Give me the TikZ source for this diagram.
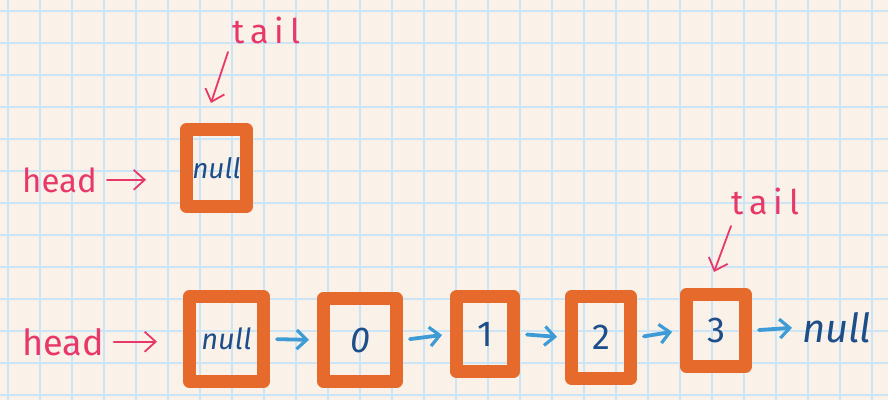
\documentclass[tikz,border=0pt]{standalone}
\usepackage{fontspec}
\setmainfont{Fira Sans}
\usetikzlibrary{arrows.meta}
\definecolor{bg}{HTML}{FAF2E9}
\definecolor{gridc}{HTML}{CBE4F6}
\definecolor{boxor}{HTML}{E66A2C}
\definecolor{ink}{HTML}{1D4E89}
\definecolor{pinkc}{HTML}{E8386A}
\definecolor{arrb}{HTML}{3E9BD5}
\begin{document}
\begin{tikzpicture}[x=1pt,y=-1pt,
  gridline/.style={draw=gridc, line width=2.8pt},
  box/.style={draw=boxor, line width=13pt, line join=round, line cap=round,
    inner sep=0pt, text=ink, font=\fontsize{36}{36}\selectfont},
  pinklabel/.style={text=pinkc, inner sep=0pt},
  parr/.style={draw=pinkc, line width=1.8pt, line cap=round,
    -{Straight Barb[length=11pt,width=20pt,line width=1.8pt]}},
  barr/.style={draw=arrb, line width=3.8pt, line cap=round,
    -{Straight Barb[length=10pt,width=19pt,line width=3.2pt]},
    shorten <=7pt, shorten >=8pt}
]
\fill[bg] (0,0) rectangle (888,400);
\useasboundingbox (0,0) rectangle (888,400);
\foreach \x in {8,40,...,872} \draw[gridline] (\x,0) -- (\x,400);
\foreach \y in {11,43,...,395} \draw[gridline] (0,\y) -- (888,\y);

% ---- top: empty list ----
\node[box, minimum width=60pt, minimum height=77pt] (b0) at (216.5,168) {\fontsize{28}{28}\selectfont\itshape null};
\node[pinklabel, anchor=base west, font=\fontsize{33}{33}\selectfont] (h0) at (22,192) {head};
\node[pinklabel, anchor=base west, font=\fontsize{34}{34}\selectfont\addfontfeature{LetterSpace=18}] (t0) at (232,43) {tail};
\draw[parr, shorten <=10pt, shorten >=34pt] (h0.east) -- (h0.east -| b0.west);
\coordinate (t0s) at (228,52);
\coordinate (t0e) at (211,103);
\draw[parr] (t0s) -- (t0e);

% ---- bottom: list ----
\node[box, minimum width=74pt, minimum height=85pt] (b1) at (226.5,339) {\fontsize{29}{29}\selectfont\itshape null};
\node[box, minimum width=73pt, minimum height=83pt] (b2) at (360,340) {\itshape 0};
\node[box, minimum width=57pt, minimum height=75pt] (b3) at (485,334) {1};
\node[box, minimum width=59pt, minimum height=82pt] (b4) at (601,337.5) {2};
\node[box, minimum width=59pt, minimum height=72pt] (b5) at (716,330.5) {3};
\node[text=ink, inner sep=2pt, anchor=base west, font=\fontsize{40}{40}\selectfont\itshape] (nl) at (800,342) {null};

\node[pinklabel, anchor=base west, font=\fontsize{36}{36}\selectfont] (h1) at (22,355) {head};
\node[pinklabel, anchor=base west, font=\fontsize{34}{34}\selectfont\addfontfeature{LetterSpace=18}] (t1) at (731,214) {tail};
\draw[parr, shorten <=10pt, shorten >=26pt] (h1.east) -- (h1.east -| b1.west);
\coordinate (t1s) at (731,226);
\coordinate (t1e) at (714,272);
\draw[parr] (t1s) -- (t1e);

\draw[barr] (b1.east) -- (b2.west);
\draw[barr] (b2.east) -- (b3.west);
\draw[barr] (b3.east) -- (b4.west);
\draw[barr] (b4.east) -- (b5.west);
\draw[barr] (b5.east) -- (nl.west);
\end{tikzpicture}
\end{document}
